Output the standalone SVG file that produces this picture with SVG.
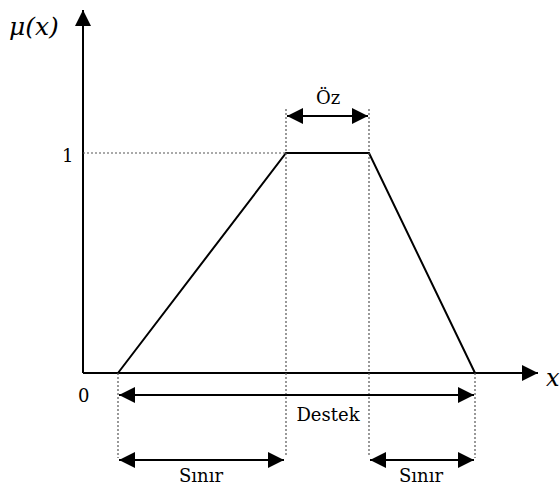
<svg xmlns="http://www.w3.org/2000/svg" width="560" height="486" viewBox="0 0 560 486">
<defs>
<marker id="ah" viewBox="0 0 16 16" refX="16" refY="8" markerWidth="16" markerHeight="16" markerUnits="userSpaceOnUse" orient="auto-start-reverse">
<path d="M0,0 L16,8 L0,16 Z" fill="#000"/>
</marker>
</defs>
<style>
.ax{stroke:#000;stroke-width:2;fill:none}
.dim{stroke:#000;stroke-width:2;fill:none}
.dot{stroke:#555;stroke-width:1.2;stroke-dasharray:2,2;fill:none}
</style>
<g id="connectors">
<line class="ax" x1="83" y1="373" x2="83" y2="10" marker-end="url(#ah)"/>
<line class="ax" x1="83" y1="373" x2="538" y2="373" marker-end="url(#ah)"/>
<polyline class="ax" points="118,373 286,153 369,153 475,373"/>
<line class="dot" x1="83" y1="153" x2="286" y2="153"/>
<line class="dot" x1="286" y1="109" x2="286" y2="455"/>
<line class="dot" x1="369" y1="109" x2="369" y2="455"/>
<line class="dot" x1="118" y1="373" x2="118" y2="458"/>
<line class="dot" x1="475" y1="373" x2="475" y2="458"/>
<line class="dim" x1="287" y1="116" x2="368" y2="116" marker-start="url(#ah)" marker-end="url(#ah)"/>
<line class="dim" x1="119" y1="395" x2="474" y2="395" marker-start="url(#ah)" marker-end="url(#ah)"/>
<line class="dim" x1="119" y1="460" x2="284" y2="460" marker-start="url(#ah)" marker-end="url(#ah)"/>
<line class="dim" x1="370" y1="460" x2="474" y2="460" marker-start="url(#ah)" marker-end="url(#ah)"/>
</g>
<g id="labels" font-family="'DejaVu Serif', serif" font-size="18" fill="#000">
<text x="9" y="35" font-style="italic" font-size="25">μ(x)</text>
<text x="546" y="386" font-style="italic" font-size="24">x</text>
<text x="62" y="162">1</text>
<text x="78" y="402">0</text>
<text x="328" y="104" text-anchor="middle">Öz</text>
<text x="328" y="421" text-anchor="middle">Destek</text>
<text x="201" y="482" text-anchor="middle">Sınır</text>
<text x="421" y="482" text-anchor="middle">Sınır</text>
</g>
</svg>
